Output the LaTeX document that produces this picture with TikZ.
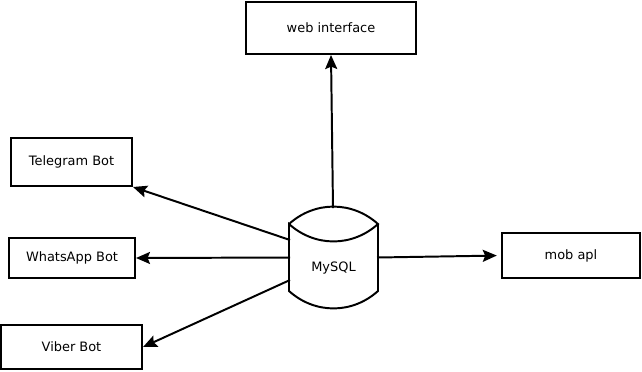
\documentclass[tikz,border=0pt]{standalone}
\usepackage{fontspec}
\setmainfont{DejaVu Sans}
\usetikzlibrary{arrows.meta}

\begin{document}
\begin{tikzpicture}[x=0.025cm, y=-0.025cm, line width=1.4pt,
	>={Stealth[length=0.35cm, width=0.3cm, inset=0.06cm]}]
\tikzstyle{every node} = [draw, rectangle, inner sep=0cm, font=\fontsize{9.2}{11}\selectfont]
\useasboundingbox (0,0) rectangle (642,371);
\node[minimum width=4.25cm, minimum height=1.3cm] (web) at (331,28) {web interface};
\node[minimum width=3.025cm, minimum height=1.2cm] (tg) at (71.5,162) {Telegram Bot};
\node[minimum width=3.15cm, minimum height=1cm] (wa) at (72,258) {WhatsApp Bot};
\node[minimum width=3.525cm, minimum height=1.1cm] (vb) at (71.5,347) {Viber Bot};
\node[minimum width=3.45cm, minimum height=1.125cm] (mob) at (571,255.5) {mob apl};
% the database drum
\node[draw=none, minimum width=2.175cm, minimum height=1.625cm,
	text height=0.7cm, text depth=0cm] (db) at (333.5,257.5) {MySQL};
\draw (db.north west) to [bend left=42] (db.north east)
	to [bend left=42] (db.north west)
	-- (db.south west) to [bend right=42] (db.south east)
	-- (db.north east);
\coordinate (d1) at (333,208);
\coordinate (d2) at (290,240);
\coordinate (d3) at (290,257.5);
\coordinate (d4) at (290,280);
\coordinate (d5) at (377,257.5);
\draw[->] (d1) -- (web.south);
\draw[->] (d2) -- (tg.south east);
\draw[->] (d3) -- (wa.east);
\draw[->] (d4) -- (vb.east);
\draw[->, shorten >=3pt] (d5) -- (mob.west);
\end{tikzpicture}
\end{document}
